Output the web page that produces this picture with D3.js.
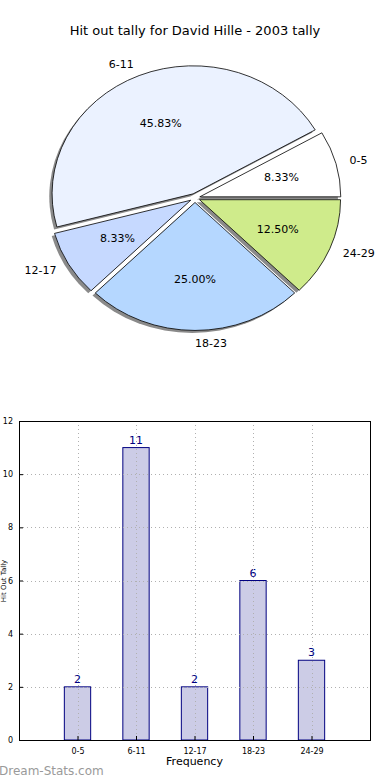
<!DOCTYPE html>
<html>
<head>
<meta charset="utf-8">
<script src="https://cdn.jsdelivr.net/npm/d3@7"></script>
<style>
  body { margin: 0; background: #fff; }
  svg { display: block; font-family: 'DejaVu Sans', sans-serif; }
</style>
</head>
<body>
<div id="container"></div>
<script>
const categories = ['0-5', '6-11', '12-17', '18-23', '24-29'];
const counts = [2, 11, 2, 6, 3];
const pieColors = ['#ffffff', '#ebf2ff', '#c6d9ff', '#b5d7ff', '#cfeb8b'];
const yTicks = [0, 2, 4, 6, 8, 10, 12];

const w = 390;
const h = 780;

const svg = d3.select('#container')
  .append('svg')
  .attr('width', w)
  .attr('height', h);

svg.append('text')
  .attr('x', 195)
  .attr('y', 35)
  .attr('text-anchor', 'middle')
  .style('font-size', '13px')
  .text('Hit out tally for David Hille - 2003 tally');

// pie (matplotlib style: counter-clockwise from 3 o'clock, stretched ellipse)
const cx = 195, cy = 198;
const rx = 141, ry = 128;
const explode = 0.035;
const total = d3.sum(counts);

const pie = d3.pie()
  .sort(null)
  .startAngle(Math.PI / 2)
  .endAngle(Math.PI / 2 - 2 * Math.PI);
const arcs = pie(counts);
const arc = d3.arc().innerRadius(0).outerRadius(1);

const midPos = (d, k) => {
  const a = (d.startAngle + d.endAngle) / 2;
  return [cx + Math.sin(a) * rx * k, cy - Math.cos(a) * ry * k];
};

const pieG = svg.append('g');

// shadows first
pieG.selectAll('.shadow')
  .data(arcs)
  .enter()
  .append('path')
  .attr('class', 'shadow')
  .attr('transform', d => {
    const [x, y] = midPos(d, explode);
    return `translate(${x - 2.8},${y + 2.6}) scale(${rx},${ry})`;
  })
  .attr('d', arc)
  .style('fill', '#8a8a8a');

pieG.selectAll('.wedge')
  .data(arcs)
  .enter()
  .append('path')
  .attr('class', 'wedge')
  .attr('transform', d => {
    const [x, y] = midPos(d, explode);
    return `translate(${x},${y}) scale(${rx},${ry})`;
  })
  .attr('d', arc)
  .attr('vector-effect', 'non-scaling-stroke')
  .style('fill', (d, i) => pieColors[i])
  .style('stroke', '#000')
  .style('stroke-width', 0.8);

pieG.selectAll('.lab')
  .data(arcs)
  .enter()
  .append('text')
  .attr('class', 'lab')
  .attr('x', d => midPos(d, explode + 1.1)[0])
  .attr('y', d => midPos(d, explode + 1.1)[1])
  .attr('dy', '0.35em')
  .attr('text-anchor', d => (midPos(d, 1)[0] < cx - 1 ? 'end' : 'start'))
  .style('font-size', '11px')
  .text((d, i) => categories[i]);

pieG.selectAll('.pct')
  .data(arcs)
  .enter()
  .append('text')
  .attr('class', 'pct')
  .attr('x', d => midPos(d, explode + 0.6)[0])
  .attr('y', d => midPos(d, explode + 0.6)[1])
  .attr('dy', '0.35em')
  .attr('text-anchor', 'middle')
  .style('font-size', '11px')
  .text(d => (d.value / total * 100).toFixed(2) + '%');

// bar chart
const plotLeft = 19, plotRight = 370, plotTop = 421, plotBottom = 740;

const xScale = d3.scaleLinear().domain([-1, 5]).range([plotLeft, plotRight]);
const yScale = d3.scaleLinear().domain([0, 12]).range([plotBottom, plotTop]);
const barW = 0.45;

const barG = svg.append('g');

barG.selectAll('rect.bar')
  .data(counts)
  .enter()
  .append('rect')
  .attr('class', 'bar')
  .attr('x', (d, i) => xScale(i - barW / 2))
  .attr('y', d => yScale(d))
  .attr('width', xScale(barW) - xScale(0))
  .attr('height', d => yScale(0) - yScale(d))
  .style('fill', '#ccccE6')
  .style('stroke', '#000080')
  .style('stroke-width', 1);

// grid on top of bars
const gridG = svg.append('g')
  .style('stroke', '#b0b0b0')
  .style('stroke-width', 1)
  .style('stroke-dasharray', '1,3');

gridG.selectAll('line.hg')
  .data(yTicks)
  .enter()
  .append('line')
  .attr('x1', plotLeft)
  .attr('x2', plotRight)
  .attr('y1', d => Math.round(yScale(d)) + 0.5)
  .attr('y2', d => Math.round(yScale(d)) + 0.5);

gridG.selectAll('line.vg')
  .data(categories)
  .enter()
  .append('line')
  .attr('x1', (d, i) => Math.round(xScale(i)) + 0.5)
  .attr('x2', (d, i) => Math.round(xScale(i)) + 0.5)
  .attr('y1', plotTop)
  .attr('y2', plotBottom);

barG.selectAll('text.val')
  .data(counts)
  .enter()
  .append('text')
  .attr('class', 'val')
  .attr('x', (d, i) => xScale(i))
  .attr('y', d => yScale(d) - 4)
  .attr('text-anchor', 'middle')
  .style('fill', '#000080')
  .style('font-size', '11px')
  .text(d => d);

const yAxis = d3.axisLeft(yScale)
  .tickValues(yTicks)
  .tickSize(-4)
  .tickPadding(6);

svg.append('g')
  .attr('transform', `translate(${plotLeft},0)`)
  .call(yAxis)
  .call(g => g.select('.domain').remove())
  .selectAll('text')
  .style('font-size', '8px')
  .style('font-family', 'DejaVu Sans, sans-serif');

const xAxis = d3.axisBottom(xScale)
  .tickValues(d3.range(categories.length))
  .tickFormat(i => categories[i])
  .tickSize(-4)
  .tickPadding(8);

svg.append('g')
  .attr('transform', `translate(0,${plotBottom})`)
  .call(xAxis)
  .call(g => g.select('.domain').remove())
  .selectAll('text')
  .style('font-size', '8px')
  .style('font-family', 'DejaVu Sans, sans-serif');

svg.append('rect')
  .attr('x', plotLeft + 0.5)
  .attr('y', plotTop + 0.5)
  .attr('width', plotRight - plotLeft)
  .attr('height', plotBottom - plotTop)
  .style('fill', 'none')
  .style('stroke', '#000')
  .style('stroke-width', 1);

svg.append('text')
  .attr('x', (plotLeft + plotRight) / 2)
  .attr('y', 765)
  .attr('text-anchor', 'middle')
  .style('font-size', '11px')
  .text('Frequency');

svg.append('text')
  .attr('transform', 'translate(6,581) rotate(-90)')
  .attr('text-anchor', 'middle')
  .style('font-size', '7px')
  .text('Hit Out Tally');

svg.append('text')
  .attr('x', -1)
  .attr('y', 775)
  .style('font-size', '12px')
  .style('fill', '#9a9a9a')
  .text('Dream-Stats.com');
</script>
</body>
</html>
